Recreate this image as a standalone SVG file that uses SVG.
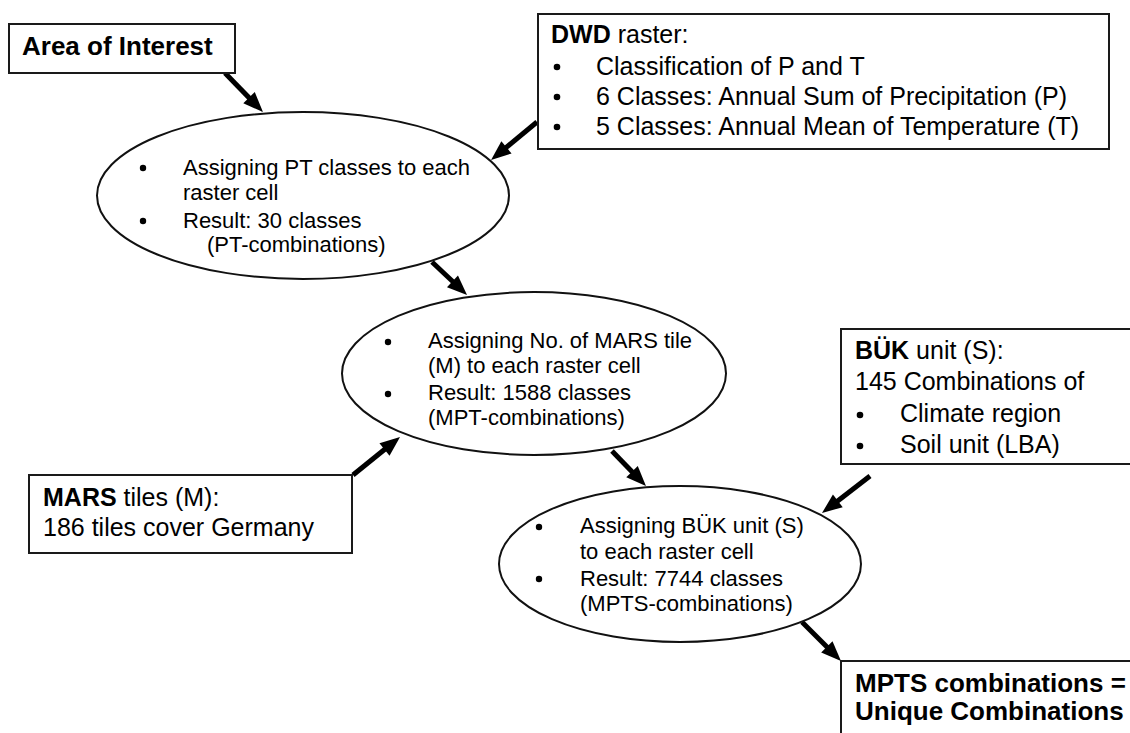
<svg xmlns="http://www.w3.org/2000/svg" width="1130" height="733" viewBox="0 0 1130 733">
  <defs>
    <style>
      .box { fill: #ffffff; stroke: #1a1a1a; stroke-width: 2; }
      .oval { fill: #ffffff; stroke: #111111; stroke-width: 2; }
      .t { font-family: "Liberation Sans", Arial, sans-serif; fill: #000000; }
      .bt { font-size: 25px; }
      .ot { font-size: 22px; }
      .hd { font-size: 26px; font-weight: bold; }
      .dot { fill: #000000; }
      .link { stroke: #000000; stroke-width: 5; fill: none; marker-end: url(#head); }
    </style>
    <marker id="head" markerUnits="userSpaceOnUse" markerWidth="22" markerHeight="18" refX="8" refY="8" orient="auto" overflow="visible">
      <path d="M0,0 L20,8 L0,16 Z" fill="#000000"/>
    </marker>
  </defs>
  <rect width="1130" height="733" fill="#ffffff"/>

  <!-- connectors -->
  <g id="connectors">
    <line class="link" x1="225" y1="73" x2="254.6" y2="103.4"/>
    <line class="link" x1="537" y1="122" x2="500.3" y2="152.4"/>
    <line class="link" x1="432" y1="262" x2="458.3" y2="286.8"/>
    <line class="link" x1="353" y1="475" x2="390.7" y2="444.5"/>
    <line class="link" x1="612" y1="451" x2="637.6" y2="477.4"/>
    <line class="link" x1="870" y1="476" x2="831.5" y2="505.7"/>
    <line class="link" x1="802" y1="622" x2="832.5" y2="652.5"/>
  </g>

  <!-- input: area of interest -->
  <g id="area-of-interest">
    <rect class="box" x="9" y="24" width="226" height="49"/>
    <text class="t hd" x="22" y="55">Area of Interest</text>
  </g>

  <!-- input: DWD raster -->
  <g id="dwd-raster">
    <rect class="box" x="538" y="14" width="571" height="135"/>
    <text class="t bt" x="551" y="43"><tspan font-weight="bold">DWD</tspan> raster:</text>
    <circle class="dot" cx="557" cy="67" r="3.3"/>
    <circle class="dot" cx="557" cy="97" r="3.3"/>
    <circle class="dot" cx="557" cy="127" r="3.3"/>
    <text class="t bt" x="596" y="75">Classification of P and T</text>
    <text class="t bt" x="596" y="105">6 Classes: Annual Sum of Precipitation (P)</text>
    <text class="t bt" x="596" y="135">5 Classes: Annual Mean of Temperature (T)</text>
  </g>

  <!-- step 1: PT classes -->
  <g id="step-pt">
    <ellipse class="oval" cx="303" cy="195.5" rx="206" ry="83.5"/>
    <circle class="dot" cx="143" cy="168" r="3.2"/>
    <circle class="dot" cx="143" cy="221" r="3.2"/>
    <text class="t ot" x="183" y="175">Assigning PT classes to each</text>
    <text class="t ot" x="183" y="200">raster cell</text>
    <text class="t ot" x="183" y="228">Result: 30 classes</text>
    <text class="t ot" x="207" y="252">(PT-combinations)</text>
  </g>

  <!-- step 2: MARS tiles -->
  <g id="step-mpt">
    <ellipse class="oval" cx="534" cy="373.5" rx="192" ry="81.5"/>
    <circle class="dot" cx="388" cy="342" r="3.2"/>
    <circle class="dot" cx="388" cy="394" r="3.2"/>
    <text class="t ot" x="428" y="348">Assigning No. of MARS tile</text>
    <text class="t ot" x="428" y="373">(M) to each raster cell</text>
    <text class="t ot" x="428" y="400">Result: 1588 classes</text>
    <text class="t ot" x="428" y="425">(MPT-combinations)</text>
  </g>

  <!-- input: MARS tiles -->
  <g id="mars-tiles">
    <rect class="box" x="29" y="475" width="323" height="78"/>
    <text class="t bt" x="43" y="506" font-size="26"><tspan font-weight="bold">MARS</tspan> tiles (M):</text>
    <text class="t bt" x="43" y="536" font-size="26">186 tiles cover Germany</text>
  </g>

  <!-- input: BÜK unit -->
  <g id="buek-unit">
    <rect class="box" x="841" y="329" width="300" height="135"/>
    <text class="t bt" x="855" y="359" font-size="26"><tspan font-weight="bold">BÜK</tspan> unit (S):</text>
    <text class="t bt" x="855" y="390" font-size="26">145 Combinations of</text>
    <circle class="dot" cx="860" cy="415" r="3.3"/>
    <circle class="dot" cx="860" cy="446" r="3.3"/>
    <text class="t bt" x="900" y="422" font-size="26">Climate region</text>
    <text class="t bt" x="900" y="453" font-size="26">Soil unit (LBA)</text>
  </g>

  <!-- step 3: BÜK units -->
  <g id="step-mpts">
    <ellipse class="oval" cx="680" cy="564" rx="181" ry="78"/>
    <circle class="dot" cx="539" cy="527" r="3.2"/>
    <circle class="dot" cx="539" cy="579" r="3.2"/>
    <text class="t ot" x="580" y="533">Assigning BÜK unit (S)</text>
    <text class="t ot" x="580" y="559">to each raster cell</text>
    <text class="t ot" x="580" y="586">Result: 7744 classes</text>
    <text class="t ot" x="580" y="611">(MPTS-combinations)</text>
  </g>

  <!-- output -->
  <g id="unique-combinations">
    <rect class="box" x="841" y="661" width="300" height="90"/>
    <text class="t hd" x="855" y="692">MPTS combinations =</text>
    <text class="t hd" x="855" y="720">Unique Combinations</text>
  </g>
</svg>
